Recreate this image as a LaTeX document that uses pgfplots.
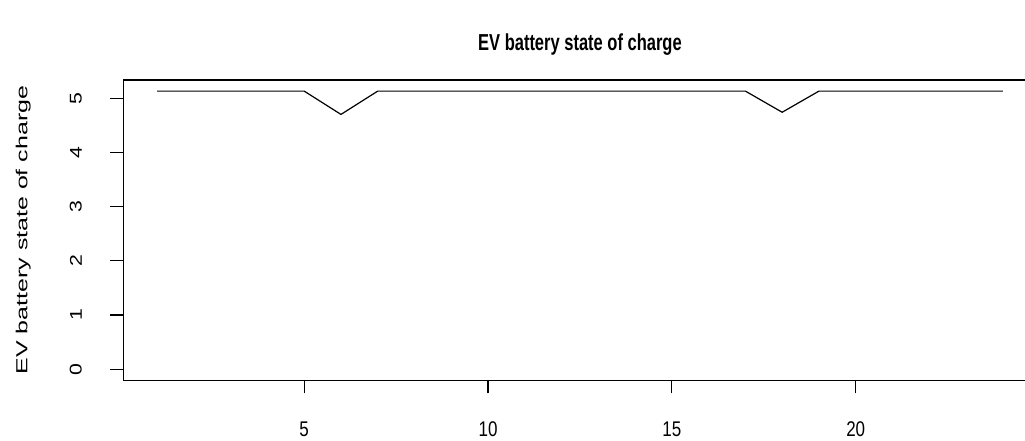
\documentclass[border=0pt]{standalone}
\usepackage{pgfplots}
\pgfplotsset{compat=1.18}
\usepackage{fontspec}
\setmainfont{Liberation Sans}
\begin{document}
\begin{tikzpicture}[x=1pt,y=1pt]
\useasboundingbox (0,0) rectangle (1025,441);
\clip (0,0) rectangle (1025,441);
\begin{axis}[
  at={(123.3pt,60.7pt)}, anchor=south west,
  scale only axis, width=913.3pt, height=300.3pt,
  xmin=0.08, xmax=24.92, ymin=-0.205, ymax=5.335,
  xtick={5,10,15,20}, ytick={0,1,2,3,4,5},
  axis line style={line width=1.2pt},
  tick style={black, line width=1.2pt},
  major tick length=13pt,
  tick align=outside,
  xtick pos=lower, ytick pos=left,
  /pgf/number format/assume math mode=true,
  tick label style={font=\fontsize{17}{19}\selectfont},
  xticklabel={\scalebox{1}[1.25]{\pgfmathprintnumber{\tick}}},
  yticklabel={\scalebox{1.25}[1]{\pgfmathprintnumber{\tick}}},
  xticklabel shift=25pt,
  yticklabel shift=25pt,
  yticklabel style={rotate=90, anchor=south},
  title={\scalebox{1}[1.4]{EV battery state of charge}},
  title style={font=\fontsize{16.5}{18}\selectfont\bfseries, at={(rel axis cs:0.5,1)}, anchor=center, yshift=29pt},
  ylabel={\scalebox{1.56}[1]{EV battery state of charge}},
  ylabel style={font=\fontsize{16}{18}\selectfont, at={(rel axis cs:0,0.5)}, anchor=center, yshift=100pt},
]
\addplot[black, line width=1.2pt] coordinates {
(1,5.13) (2,5.13) (3,5.13) (4,5.13) (5,5.13) (6,4.70) (7,5.13) (8,5.13)
(9,5.13) (10,5.13) (11,5.13) (12,5.13) (13,5.13) (14,5.13) (15,5.13) (16,5.13)
(17,5.13) (18,4.74) (19,5.13) (20,5.13) (21,5.13) (22,5.13) (23,5.13) (24,5.13)
};
\end{axis}
\end{tikzpicture}
\end{document}
